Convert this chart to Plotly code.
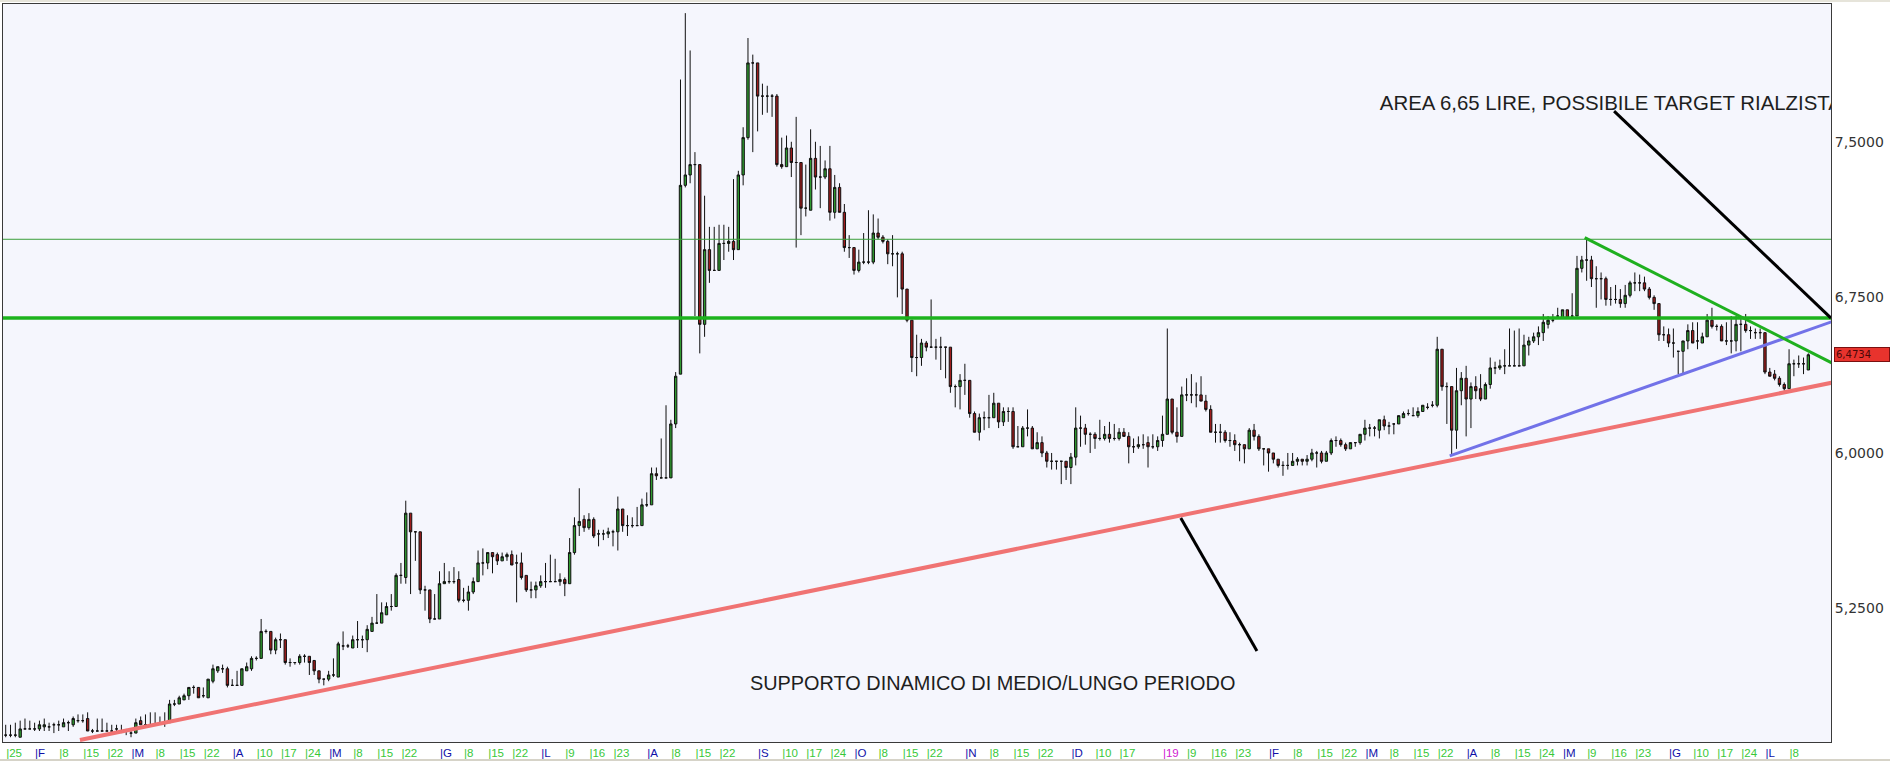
import plotly.graph_objects as go

# ---------------- data (daily candles, trading-day index) ----------------
open_prices = [
    4.64,4.64,4.64,4.63,4.67,4.67,4.67,4.67,4.68,4.68,
    4.69,4.69,4.68,4.70,4.69,4.71,4.71,4.72,4.66,4.66,
    4.66,4.66,4.66,4.67,4.66,4.66,4.65,4.65,4.71,4.69,
    4.69,4.69,4.70,4.70,4.70,4.79,4.79,4.81,4.83,4.87,
    4.87,4.83,4.82,4.90,4.95,4.96,4.96,4.88,4.88,4.88,
    4.95,4.96,5.01,5.01,5.14,5.14,5.05,5.10,5.10,4.99,
    4.99,4.99,5.02,5.02,5.00,4.95,4.91,4.91,4.93,4.92,
    5.07,5.07,5.06,5.10,5.10,5.10,5.14,5.18,5.18,5.22,
    5.26,5.26,5.41,5.40,5.71,5.62,5.62,5.34,5.34,5.20,
    5.20,5.37,5.38,5.38,5.39,5.29,5.29,5.33,5.38,5.47,
    5.47,5.52,5.51,5.48,5.50,5.51,5.47,5.47,5.41,5.34,
    5.34,5.36,5.38,5.38,5.38,5.38,5.39,5.37,5.52,5.65,
    5.68,5.64,5.68,5.61,5.61,5.61,5.62,5.62,5.73,5.65,
    5.65,5.65,5.65,5.75,5.75,5.90,5.88,5.88,5.88,6.14,
    6.38,7.29,7.34,7.39,7.39,6.62,6.98,6.88,6.88,7.01,
    7.01,7.02,6.98,7.34,7.52,7.88,7.88,7.72,7.72,7.72,
    7.72,7.39,7.38,7.47,7.40,7.40,7.18,7.17,7.42,7.33,
    7.33,7.37,7.16,7.28,7.16,6.99,6.99,6.88,6.92,6.92,
    6.92,7.06,7.04,7.02,6.96,6.96,6.96,6.79,6.64,6.46,
    6.46,6.53,6.51,6.51,6.51,6.51,6.51,6.32,6.32,6.35,
    6.35,6.19,6.10,6.17,6.17,6.17,6.24,6.15,6.20,6.20,
    6.03,6.03,6.12,6.12,6.02,6.05,6.00,5.96,5.96,5.96,
    5.96,5.93,5.98,6.12,6.12,6.09,6.09,6.07,6.07,6.09,
    6.07,6.07,6.10,6.08,6.03,6.03,6.04,6.05,6.03,6.03,
    6.06,6.09,6.26,6.10,6.08,6.28,6.28,6.28,6.28,6.25,
    6.21,6.10,6.10,6.10,6.06,6.06,6.04,6.04,6.02,6.11,
    6.08,6.02,6.02,6.00,5.97,5.94,5.94,5.94,5.96,5.97,
    5.96,5.97,6.00,6.00,5.96,6.00,6.06,6.06,6.04,6.02,
    6.05,6.05,6.09,6.12,6.12,6.11,6.16,6.13,6.14,6.14,
    6.17,6.19,6.18,6.18,6.20,6.22,6.23,6.23,6.50,6.32,
    6.32,6.11,6.30,6.36,6.26,6.32,6.31,6.26,6.33,6.41,
    6.41,6.42,6.42,6.42,6.42,6.42,6.52,6.54,6.56,6.58,
    6.62,6.64,6.66,6.65,6.69,6.66,6.66,6.89,6.93,6.93,
    6.84,6.84,6.84,6.74,6.74,6.74,6.72,6.76,6.82,6.82,
    6.82,6.79,6.75,6.72,6.57,6.57,6.53,6.49,6.49,6.54,
    6.59,6.54,6.53,6.56,6.64,6.61,6.61,6.54,6.54,6.54,
    6.62,6.62,6.59,6.58,6.58,6.58,6.39,6.38,6.36,6.33,
    6.31,6.43,6.43,6.43,6.40,
]
high_prices = [
    4.69,4.69,4.70,4.71,4.72,4.71,4.70,4.71,4.72,4.70,
    4.70,4.71,4.72,4.71,4.73,4.74,4.74,4.75,4.67,4.72,
    4.72,4.70,4.69,4.69,4.69,4.67,4.67,4.72,4.73,4.74,
    4.75,4.75,4.73,4.75,4.81,4.81,4.83,4.84,4.87,4.88,
    4.87,4.87,4.91,4.98,4.97,4.98,4.97,4.91,4.95,4.96,
    4.99,5.02,5.02,5.20,5.15,5.14,5.11,5.13,5.10,5.01,
    4.99,5.03,5.03,5.02,5.00,4.95,4.91,4.95,5.01,5.09,
    5.14,5.08,5.12,5.19,5.12,5.17,5.21,5.32,5.28,5.28,
    5.32,5.42,5.47,5.77,5.71,5.62,5.62,5.36,5.34,5.32,
    5.43,5.47,5.43,5.45,5.43,5.35,5.36,5.40,5.53,5.54,
    5.52,5.52,5.52,5.52,5.52,5.53,5.51,5.52,5.41,5.38,
    5.38,5.41,5.47,5.51,5.49,5.42,5.40,5.59,5.69,5.83,
    5.70,5.71,5.69,5.63,5.63,5.64,5.63,5.79,5.73,5.70,
    5.69,5.74,5.78,5.81,5.93,5.93,6.07,6.23,6.16,6.39,
    7.80,8.12,7.94,7.45,7.39,7.24,7.09,7.09,7.10,7.10,
    7.09,7.32,7.36,7.57,8.00,7.92,7.88,7.78,7.77,7.73,
    7.73,7.52,7.53,7.50,7.62,7.40,7.39,7.56,7.50,7.48,
    7.41,7.48,7.34,7.30,7.20,7.05,6.99,6.98,7.06,7.17,
    7.15,7.13,7.05,7.03,7.05,6.97,6.97,6.79,6.64,6.57,
    6.55,6.54,6.74,6.55,6.56,6.51,6.51,6.33,6.38,6.43,
    6.35,6.20,6.19,6.20,6.28,6.29,6.24,6.22,6.22,6.22,
    6.13,6.13,6.21,6.13,6.10,6.08,6.01,6.00,5.96,5.96,
    5.96,6.00,6.22,6.18,6.14,6.10,6.10,6.16,6.13,6.15,
    6.14,6.12,6.12,6.10,6.07,6.08,6.09,6.08,6.09,6.08,
    6.18,6.60,6.26,6.22,6.32,6.36,6.38,6.34,6.37,6.28,
    6.23,6.14,6.14,6.11,6.10,6.09,6.05,6.04,6.12,6.14,
    6.09,6.02,6.02,6.00,5.97,5.96,6.00,6.00,5.98,5.97,
    5.99,6.02,6.01,6.01,6.01,6.07,6.08,6.07,6.05,6.05,
    6.05,6.09,6.16,6.14,6.13,6.16,6.18,6.15,6.14,6.18,
    6.20,6.21,6.22,6.22,6.23,6.24,6.25,6.56,6.50,6.34,
    6.32,6.41,6.39,6.42,6.34,6.37,6.38,6.34,6.46,6.44,
    6.45,6.50,6.60,6.59,6.60,6.57,6.56,6.58,6.61,6.67,
    6.66,6.67,6.70,6.69,6.69,6.77,6.95,6.95,7.04,6.95,
    6.90,6.87,6.85,6.80,6.81,6.79,6.81,6.83,6.87,6.86,
    6.85,6.80,6.76,6.72,6.61,6.60,6.60,6.49,6.54,6.62,
    6.63,6.63,6.58,6.67,6.70,6.62,6.62,6.63,6.66,6.66,
    6.65,6.67,6.61,6.60,6.60,6.58,6.41,6.40,6.37,6.34,
    6.50,6.45,6.47,6.46,6.48,
]
low_prices = [
    4.63,4.63,4.63,4.63,4.67,4.67,4.66,4.66,4.66,4.66,
    4.65,4.66,4.68,4.66,4.68,4.70,4.70,4.66,4.65,4.66,
    4.66,4.66,4.66,4.65,4.65,4.64,4.63,4.65,4.69,4.69,
    4.69,4.69,4.69,4.68,4.70,4.78,4.79,4.81,4.81,4.84,
    4.82,4.82,4.82,4.89,4.94,4.94,4.87,4.88,4.88,4.88,
    4.95,4.95,5.00,5.01,5.13,5.03,5.03,5.06,4.98,4.97,
    4.98,4.98,4.99,4.93,4.93,4.89,4.88,4.90,4.92,4.92,
    5.05,5.06,5.06,5.06,5.06,5.04,5.14,5.18,5.18,5.22,
    5.24,5.26,5.37,5.37,5.32,5.48,5.32,5.24,5.18,5.20,
    5.20,5.37,5.37,5.37,5.28,5.28,5.24,5.32,5.38,5.41,
    5.44,5.42,5.46,5.48,5.48,5.46,5.28,5.39,5.33,5.30,
    5.30,5.35,5.35,5.38,5.38,5.36,5.31,5.37,5.51,5.60,
    5.62,5.63,5.59,5.55,5.58,5.59,5.55,5.53,5.62,5.60,
    5.64,5.65,5.65,5.74,5.75,5.87,5.88,5.88,5.88,6.12,
    6.38,7.28,7.30,6.66,6.48,6.56,6.82,6.88,6.88,6.93,
    6.97,6.93,6.98,7.29,7.51,7.45,7.55,7.63,7.64,7.62,
    7.38,7.37,7.38,7.33,6.99,7.05,7.14,7.17,7.27,7.18,
    7.32,7.12,7.13,7.16,6.97,6.94,6.86,6.87,6.91,6.91,
    6.91,7.03,7.01,6.91,6.90,6.75,6.67,6.63,6.39,6.37,
    6.42,6.49,6.51,6.45,6.40,6.36,6.29,6.22,6.21,6.28,
    6.17,6.10,6.06,6.11,6.12,6.17,6.12,6.13,6.15,6.02,
    6.03,6.03,6.08,6.02,6.02,5.98,5.93,5.92,5.92,5.85,
    5.87,5.85,5.94,6.03,6.04,6.00,6.02,6.06,6.06,6.05,
    6.06,6.06,6.08,5.95,6.00,6.02,6.02,5.93,6.02,6.01,
    6.03,6.09,6.09,6.05,6.08,6.25,6.24,6.22,6.25,6.20,
    6.10,6.05,6.05,6.05,6.03,6.01,5.96,5.95,6.02,6.06,
    6.01,5.94,5.91,5.95,5.93,5.89,5.92,5.94,5.94,5.94,
    5.94,5.96,5.93,5.95,5.96,5.99,6.03,6.03,6.01,6.02,
    6.03,6.04,6.06,6.08,6.08,6.07,6.11,6.09,6.09,6.14,
    6.17,6.18,6.18,6.17,6.20,6.21,6.22,6.22,6.30,6.14,
    5.99,6.02,6.23,6.08,6.12,6.26,6.25,6.26,6.31,6.38,
    6.40,6.38,6.42,6.42,6.42,6.42,6.47,6.53,6.52,6.54,
    6.60,6.63,6.65,6.65,6.65,6.65,6.66,6.87,6.83,6.80,
    6.70,6.74,6.71,6.71,6.72,6.70,6.70,6.75,6.78,6.78,
    6.78,6.74,6.69,6.54,6.54,6.51,6.46,6.38,6.38,6.50,
    6.53,6.50,6.53,6.56,6.60,6.59,6.54,6.52,6.48,6.49,
    6.49,6.58,6.55,6.55,6.55,6.38,6.37,6.35,6.32,6.30,
    6.31,6.37,6.41,6.38,6.40,
]
close_prices = [
    4.64,4.64,4.64,4.67,4.67,4.67,4.67,4.69,4.69,4.68,
    4.69,4.69,4.70,4.70,4.72,4.71,4.71,4.66,4.66,4.66,
    4.66,4.66,4.66,4.67,4.66,4.66,4.65,4.70,4.69,4.69,
    4.69,4.69,4.70,4.70,4.79,4.79,4.82,4.83,4.87,4.87,
    4.82,4.83,4.91,4.96,4.97,4.96,4.88,4.88,4.88,4.96,
    4.97,5.01,5.01,5.14,5.14,5.05,5.10,5.10,4.99,4.99,
    4.99,5.02,5.02,4.99,4.95,4.91,4.91,4.93,4.93,5.08,
    5.07,5.07,5.10,5.10,5.10,5.15,5.18,5.18,5.23,5.26,
    5.26,5.41,5.41,5.71,5.62,5.62,5.34,5.34,5.20,5.20,
    5.37,5.38,5.38,5.38,5.29,5.29,5.33,5.38,5.47,5.47,
    5.52,5.50,5.48,5.50,5.51,5.46,5.47,5.40,5.34,5.34,
    5.36,5.38,5.38,5.38,5.38,5.39,5.37,5.52,5.65,5.67,
    5.64,5.68,5.60,5.61,5.61,5.62,5.62,5.73,5.65,5.65,
    5.65,5.65,5.75,5.75,5.90,5.89,5.88,5.88,6.14,6.37,
    7.29,7.34,7.39,7.39,6.62,6.98,6.88,6.88,7.01,7.01,
    7.02,6.98,7.34,7.52,7.88,7.88,7.72,7.72,7.72,7.72,
    7.39,7.38,7.47,7.40,7.40,7.18,7.18,7.42,7.33,7.33,
    7.37,7.16,7.28,7.16,6.99,6.99,6.88,6.92,6.92,6.92,
    7.06,7.04,7.02,6.96,6.96,6.96,6.79,6.64,6.46,6.46,
    6.53,6.51,6.51,6.51,6.51,6.51,6.32,6.32,6.35,6.35,
    6.19,6.10,6.17,6.17,6.17,6.24,6.15,6.20,6.20,6.03,
    6.03,6.12,6.12,6.02,6.05,6.00,5.96,5.96,5.96,5.96,
    5.93,5.98,6.12,6.12,6.09,6.09,6.07,6.07,6.09,6.07,
    6.07,6.10,6.08,6.03,6.03,6.04,6.04,6.03,6.03,6.06,
    6.09,6.26,6.10,6.08,6.28,6.28,6.28,6.28,6.25,6.21,
    6.10,6.10,6.10,6.06,6.06,6.04,6.04,6.02,6.11,6.08,
    6.02,6.02,6.00,5.97,5.94,5.94,5.94,5.96,5.97,5.96,
    5.97,6.00,6.00,5.96,6.00,6.06,6.06,6.04,6.02,6.05,
    6.05,6.09,6.12,6.12,6.12,6.16,6.13,6.13,6.14,6.18,
    6.19,6.19,6.18,6.20,6.23,6.22,6.23,6.50,6.32,6.32,
    6.11,6.30,6.36,6.26,6.32,6.30,6.26,6.33,6.41,6.41,
    6.42,6.42,6.42,6.42,6.42,6.52,6.54,6.56,6.58,6.63,
    6.64,6.64,6.66,6.69,6.65,6.66,6.89,6.93,6.93,6.84,
    6.84,6.84,6.74,6.74,6.74,6.72,6.76,6.82,6.82,6.82,
    6.79,6.75,6.72,6.57,6.57,6.53,6.53,6.49,6.54,6.59,
    6.53,6.54,6.56,6.64,6.61,6.61,6.54,6.54,6.54,6.62,
    6.62,6.59,6.59,6.58,6.58,6.39,6.37,6.36,6.33,6.31,
    6.43,6.43,6.43,6.43,6.4734,
]
assert len(open_prices) == len(high_prices) == len(low_prices) == len(close_prices)
day_index = list(range(len(close_prices)))

# x-axis labels (Italian month initials + week days), placed at trading-day index
tick_index = [0, 6, 11, 16, 21, 26, 31, 36, 41, 47, 52, 57, 62, 67, 72, 77, 82,
              90, 95, 100, 105, 111, 116, 121, 126, 133, 138, 143, 148, 156, 161,
              166, 171, 176, 181, 186, 191, 199, 204, 209, 214, 221, 226, 231,
              240, 245, 250, 255, 262, 267, 272, 277, 282, 287, 292, 297, 303,
              308, 313, 318, 323, 328, 333, 338, 345, 350, 355, 360, 365, 370]
tick_labels = ['25', 'F', '8', '15', '22', 'M', '8', '15', '22', 'A', '10', '17', '24',
               'M', '8', '15', '22', 'G', '8', '15', '22', 'L', '9', '16', '23', 'A', '8',
               '15', '22', 'S', '10', '17', '24', 'O', '8', '15', '22', 'N', '8', '15', '22',
               'D', '10', '17', '19', '9', '16', '23', 'F', '8', '15', '22', 'M', '8', '15',
               '22', 'A', '8', '15', '24', 'M', '9', '16', '23', 'G', '10', '17', '24', 'L', '8']
year_label = '19'

price_ticks = [5.25, 6.0, 6.75, 7.5]
price_tick_labels = ['5,2500', '6,0000', '6,7500', '7,5000']

# horizontal levels
resistance_level = 6.65
upper_level = 7.03
last_price = 6.4734
last_price_label = '6,4734'

# drawn trend lines: (index, price) endpoints
support_x, support_y = [15.4, 378.9], [4.617, 6.339]
blue_x, blue_y = [299.6, 378.9], [5.986, 6.633]
down_x, down_y = [327.6, 378.9], [7.038, 6.434]
target_arrow_x, target_arrow_y = [333.7, 378.7], [7.648, 6.65]
support_arrow_x, support_arrow_y = [243.8, 259.6], [5.687, 5.046]

note_target = 'AREA 6,65 LIRE, POSSIBILE TARGET RIALZISTA'
note_target_pos = (285.1, 7.677)
note_support = 'SUPPORTO DINAMICO DI MEDIO/LUNGO PERIODO'
note_support_pos = (154.4, 4.883)

# ---------------- figure ----------------
fig = go.Figure()

fig.add_trace(go.Candlestick(
    x=day_index, open=open_prices, high=high_prices, low=low_prices, close=close_prices,
    increasing=dict(fillcolor='#2f9a2f', line=dict(color='#101010', width=1)),
    decreasing=dict(fillcolor='#9e1c1c', line=dict(color='#101010', width=1)),
    whiskerwidth=0, showlegend=False, hoverinfo='skip',
))

for txt, (tx, ty), fs in [(note_target, note_target_pos, 20.4), (note_support, note_support_pos, 19.9)]:
    fig.add_trace(go.Scatter(
        x=[tx], y=[ty], mode='text', text=[txt], textposition='middle right',
        cliponaxis=True, showlegend=False, hoverinfo='skip',
        textfont=dict(family='Liberation Sans, Arial, sans-serif', size=fs, color='#1e1e1e'),
    ))

def hline(level, color, width):
    fig.add_shape(type='line', xref='paper', yref='y', x0=0, x1=1, y0=level, y1=level,
                  line=dict(color=color, width=width), layer='above')

hline(upper_level, '#3a9e3a', 1)
hline(resistance_level, '#1db31d', 3.5)

def seg(xs, ys, color, width):
    fig.add_shape(type='line', xref='x', yref='y', x0=xs[0], x1=xs[1], y0=ys[0], y1=ys[1],
                  line=dict(color=color, width=width), layer='above')

seg(support_x, support_y, '#f07373', 4)
seg(blue_x, blue_y, '#7272e8', 3)
seg(down_x, down_y, '#1fb01f', 3)
seg(target_arrow_x, target_arrow_y, '#000000', 3)
seg(support_arrow_x, support_arrow_y, '#000000', 3)

# thin frame lines of the chart window (top and bottom edges)
fig.add_shape(type='line', xref='paper', yref='paper', x0=-0.01, x1=1.04, y0=-0.0245, y1=-0.0245,
              line=dict(color='#d6d3c8', width=2), layer='below')
fig.add_shape(type='line', xref='paper', yref='paper', x0=-0.01, x1=1.04, y0=1.004, y1=1.004,
              line=dict(color='#e6e4da', width=2), layer='below')

# last price tag on the right axis
fig.add_annotation(
    xref='paper', yref='y', x=1.0015, y=last_price, xanchor='left', yanchor='middle',
    text=last_price_label, showarrow=False, bgcolor='#e8332d', bordercolor='#7a1010',
    borderwidth=1, borderpad=1, width=52, align='left',
    font=dict(family='DejaVu Sans, Verdana, sans-serif', size=10, color='#4a0808'),
)

def label_color(t):
    if t == year_label:
        return '#d020d0'
    if t.isalpha():
        return '#1010a8'
    return '#38c838'

tick_text = ['<span style="color:%s">|%s</span>' % (label_color(t), t) for t in tick_labels]

fig.update_layout(
    width=1890, height=762,
    margin=dict(l=3, r=59, t=4, b=20),
    paper_bgcolor='#ffffff', plot_bgcolor='#f5f6fd',
    showlegend=False,
    xaxis=dict(
        range=[-0.56, 378.7], rangeslider=dict(visible=False),
        showgrid=False, zeroline=False, showline=True, linecolor='#3a3a3a', linewidth=1,
        mirror=True, ticks='', tickmode='array', tickvals=tick_index, ticktext=tick_text,
        ticklabelposition='outside right', tickangle=0,
        tickfont=dict(family='Liberation Sans, Arial, sans-serif', size=11.5),
    ),
    yaxis=dict(
        side='right', range=[4.607, 8.164],
        showgrid=False, zeroline=False, showline=True, linecolor='#3a3a3a', linewidth=1,
        mirror=True, ticks='', tickmode='array', tickvals=price_ticks, ticktext=price_tick_labels,
        tickfont=dict(family='DejaVu Sans, Verdana, sans-serif', size=14, color='#333333'),
    ),
)

fig.write_html("out.html", config={'displayModeBar': False},
               post_script="document.body.style.margin='0';document.body.style.overflow='hidden';")
